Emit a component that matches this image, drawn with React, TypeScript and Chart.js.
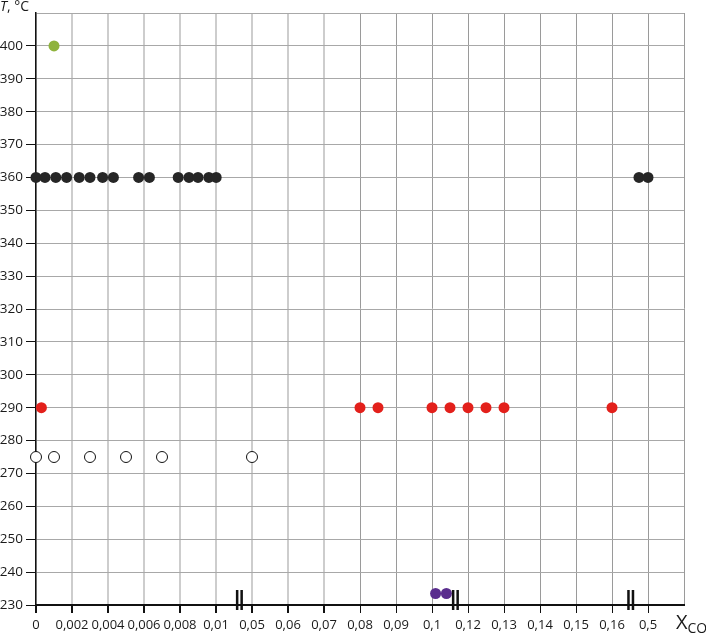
import React, { useEffect, useRef } from "react";
import { Chart, registerables } from "chart.js";

Chart.register(...registerables);

// Tick labels of the broken x axis (one per slot)
const xTickLabels = [
  "0", "0,002", "0,004", "0,006", "0,008", "0,01",
  "0,05", "0,06", "0,07", "0,08", "0,09", "0,1",
  "0,12", "0,13", "0,14", "0,15", "0,16", "0,5",
];
// Broken-axis definition: real X_CO value -> axis slot
const axisValues = [0, 0.01, 0.05, 0.1, 0.12, 0.16, 0.48, 0.5];
const axisSlots = [0, 5, 6, 11, 12, 16, 16.5, 17];
const axisBreakSlots = [5.65, 11.65, 16.52];

// Series (X_CO values, T in °C)
const black360X = [0, 0.0005, 0.0011, 0.0017, 0.0024, 0.003, 0.0037, 0.0043, 0.0057, 0.0063, 0.0079, 0.0085, 0.009, 0.0096, 0.0102, 0.49, 0.5];
const black360T = 360;
const red290X = [0.0003, 0.08, 0.085, 0.1, 0.11, 0.12, 0.125, 0.13, 0.16];
const red290T = 290;
const open275X = [0, 0.001, 0.003, 0.005, 0.007, 0.05];
const open275T = 275;
const green400X = [0.001];
const green400T = 400;
const purpleX = [0.102, 0.108];
const purpleT = 233.5;

function toSlot(v: number): number {
  for (let i = 0; i < axisValues.length - 1; i++) {
    const a = axisValues[i], b = axisValues[i + 1];
    if (v <= b || i === axisValues.length - 2) {
      return axisSlots[i] + ((v - a) / (b - a)) * (axisSlots[i + 1] - axisSlots[i]);
    }
  }
  return 0;
}

const pts = (xs: number[], t: number) => xs.map((x) => ({ x: toSlot(x), y: t }));

const decorPlugin = {
  id: "decor",
  afterDraw(chart: any) {
    const ctx = chart.ctx;
    const xs = chart.scales.x;
    const ys = chart.scales.y;
    const axisY = ys.getPixelForValue(230);
    ctx.save();
    ctx.fillStyle = "#111";
    for (const s of axisBreakSlots) {
      const px = xs.getPixelForValue(s);
      ctx.fillRect(px - 3.5, axisY - 15, 2.5, 20);
      ctx.fillRect(px + 1, axisY - 15, 2.5, 20);
    }
    // y title
    ctx.fillStyle = "#1a1a1a";
    ctx.textBaseline = "alphabetic";
    ctx.textAlign = "left";
    ctx.font = "italic 14px 'Open Sans'";
    ctx.fillText("T", 0, 11);
    const tw = ctx.measureText("T").width;
    ctx.font = "14px 'Open Sans'";
    ctx.fillText(", °C", tw, 11);
    // x title
    ctx.font = "20px 'Open Sans'";
    ctx.fillText("X", 676, 629);
    const xw = ctx.measureText("X").width;
    ctx.font = "14px 'Open Sans'";
    ctx.fillText("CO", 676 + xw, 633);
    ctx.restore();
  },
};

export default function App() {
  const ref = useRef<HTMLCanvasElement>(null);
  useEffect(() => {
    document.body.style.margin = "0";
    const canvas = ref.current!;
    const mk = (data: any, bg: string, border: string, r: number, bw = 0) => ({
      data,
      backgroundColor: bg,
      borderColor: border,
      borderWidth: bw,
      pointRadius: r,
      pointHoverRadius: r,
      clip: false,
    });
    const chart = new Chart(canvas, {
      type: "scatter",
      data: {
        datasets: [
          mk(pts(open275X, open275T), "#ffffff", "#111111", 5.5, 1),
          mk(pts(black360X, black360T), "#262626", "#262626", 5.5),
          mk(pts(red290X, red290T), "#e3201b", "#e3201b", 5.5),
          mk(pts(green400X, green400T), "#8fb33c", "#8fb33c", 5.5),
          mk(pts(purpleX, purpleT), "#5a2d8e", "#5a2d8e", 5.5),
        ] as any,
      },
      options: {
        animation: false,
        responsive: false,
        events: [],
        layout: { padding: { top: 13, right: 22, left: 0, bottom: 0 } },
        plugins: { legend: { display: false }, tooltip: { enabled: false } },
        scales: {
          x: {
            type: "linear",
            min: 0,
            max: 18,
            afterFit: (s: any) => { s.height = 28; },
            afterBuildTicks: (s: any) => {
              s.ticks = Array.from({ length: 19 }, (_, i) => ({ value: i }));
            },
            ticks: {
              autoSkip: false,
              maxRotation: 0,
              padding: 4,
              color: "#1a1a1a",
              font: { family: "'Open Sans'", size: 13 },
              callback: (v: any) => xTickLabels[v] ?? "",
            },
            grid: {
              tickLength: 8,
              tickColor: (c: any) => (c.index === 18 ? "rgba(0,0,0,0)" : "#111"),
              color: (c: any) => (c.index <= 8 ? "#cdcdcd" : "#9a9a9a"),
              lineWidth: (c: any) => (c.index <= 8 ? 2 : 1),
            },
            border: { color: "#111", width: 2 },
          },
          y: {
            min: 230,
            max: 410,
            afterFit: (s: any) => { s.width = 36; },
            ticks: {
              stepSize: 10,
              padding: 3,
              color: "#1a1a1a",
              font: { family: "'Open Sans'", size: 13.5 },
              callback: (v: any) => (v === 410 ? "" : String(v)),
            },
            grid: {
              tickLength: 10,
              tickColor: (c: any) => (c.tick && c.tick.value === 410 ? "rgba(0,0,0,0)" : "#111"),
              color: "#a8a8a8",
              lineWidth: 1,
            },
            border: { color: "#111", width: 1.5 },
          },
        },
      },
      plugins: [decorPlugin],
    } as any);
    return () => chart.destroy();
  }, []);
  return (
    <div style={{ width: 706, height: 633, background: "#fff" }}>
      <canvas ref={ref} width={706} height={633} />
    </div>
  );
}
